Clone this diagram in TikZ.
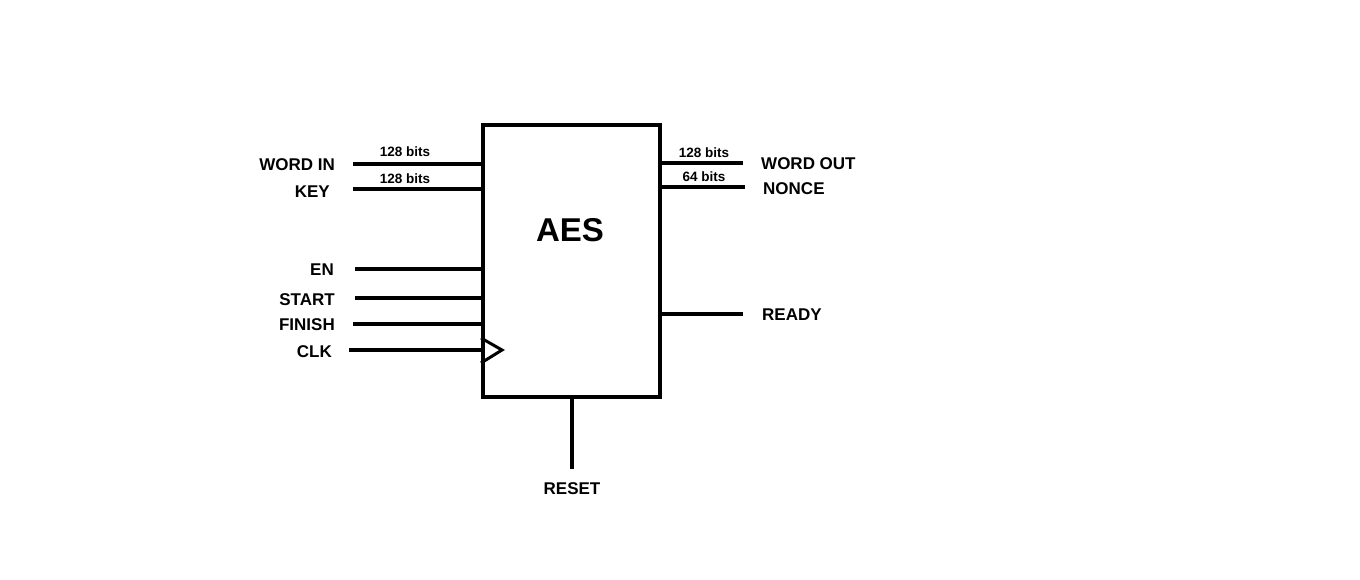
\documentclass[tikz,border=0pt]{standalone}
\usepackage{fontspec}
\setmainfont{Liberation Sans}
\begin{document}
\begin{tikzpicture}[x=1pt,y=-1pt,
  wire/.style={line width=4pt},
  lbl/.style={font=\fontsize{17}{17}\selectfont\bfseries, inner sep=0pt},
  bits/.style={font=\fontsize{13.5}{13.5}\selectfont\bfseries, inner sep=0pt}]
\useasboundingbox[fill=white] (0,0) rectangle (1360,579);
\node[draw, line width=4pt, minimum width=177pt, minimum height=272pt, anchor=north west, inner sep=0pt] (box) at (481,123) {};
\node[font=\fontsize{33}{33}\selectfont\bfseries] (aes) at (570,230) {AES};
% left inputs
\coordinate (wi) at (353,164); \coordinate (wib) at (481,164);
\coordinate (k) at (353,189); \coordinate (kb) at (481,189);
\coordinate (en) at (355,269); \coordinate (enb) at (481,269);
\coordinate (st) at (355,298); \coordinate (stb) at (481,298);
\coordinate (fi) at (353,324); \coordinate (fib) at (481,324);
\coordinate (ck) at (349,350); \coordinate (ckb) at (481,350);
\draw[wire] (wi) -- (wib);
\draw[wire] (k) -- (kb);
\draw[wire] (en) -- (enb);
\draw[wire] (st) -- (stb);
\draw[wire] (fi) -- (fib);
\draw[wire] (ck) -- (ckb);
\coordinate (t1) at (481,338); \coordinate (t2) at (502,350); \coordinate (t3) at (481,363);
\draw[line width=3pt] (t1) -- (t2) -- (t3);
\node[lbl, anchor=east] (lwi) at (335,165) {WORD IN};
\node[lbl, anchor=east] (lk) at (330,192) {KEY};
\node[lbl, anchor=east] (len) at (334,270) {EN};
\node[lbl, anchor=east] (lst) at (335,300) {START};
\node[lbl, anchor=east] (lfi) at (335,325) {FINISH};
\node[lbl, anchor=east] (lck) at (332,352) {CLK};
\node[bits] (b1) at (405,152) {128 bits};
\node[bits] (b2) at (405,179) {128 bits};
% right outputs
\coordinate (wo) at (658,163); \coordinate (woe) at (743,163);
\coordinate (no) at (658,187); \coordinate (noe) at (745,187);
\coordinate (rd) at (658,314); \coordinate (rde) at (743,314);
\draw[wire] (wo) -- (woe);
\draw[wire] (no) -- (noe);
\draw[wire] (rd) -- (rde);
\node[bits] (b3) at (704,153) {128 bits};
\node[bits] (b4) at (704,177) {64 bits};
\node[lbl, anchor=west] (lwo) at (761,164) {WORD OUT};
\node[lbl, anchor=west] (lno) at (763,189) {NONCE};
\node[lbl, anchor=west] (lrd) at (762,315) {READY};
% reset
\coordinate (rs) at (572,469);
\draw[wire] (box.south -| rs) -- (rs);
\node[lbl] (lrs) at (572,489) {RESET};
\end{tikzpicture}
\end{document}
